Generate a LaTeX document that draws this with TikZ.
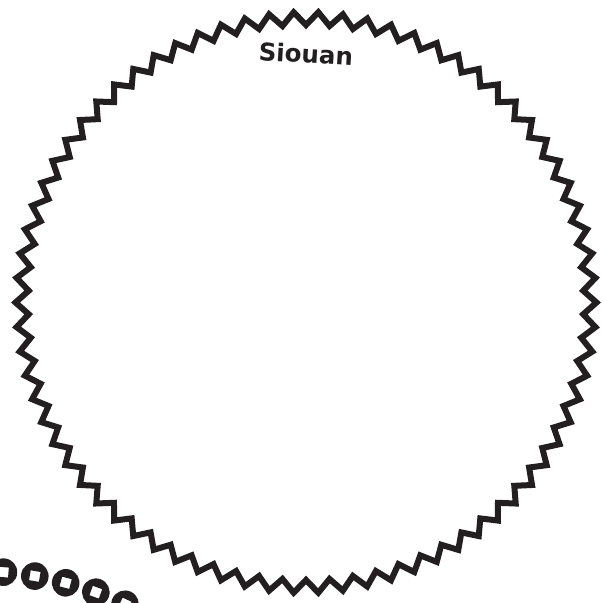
\documentclass[tikz,border=0pt]{standalone}
\usepackage{fontspec}
\setmainfont{DejaVu Sans}
\usetikzlibrary{calc}
\definecolor{ink}{HTML}{231F20}

\begin{document}
\begin{tikzpicture}[x=1pt, y=1pt,
  ring/.style={draw=ink, line width=6pt, line join=miter},
  coin/.style={fill=ink, even odd rule},
  lbl/.style={font=\fontsize{24.5}{25}\selectfont\bfseries, text=ink, inner sep=0pt}]
\useasboundingbox (0,0) rectangle (603,603);
\clip (0,0) rectangle (603,603);
% Siouan circle
\coordinate (siouan) at (306,300.5);
\draw[ring] ($(siouan)+(0:290.5)$)
  \foreach \i in {1,...,147}{ -- ($(siouan)+({\i/148*360}:{284+6.5*(1-2*mod(\i,2))})$)} -- cycle;
\node[lbl, rotate=-3.5] (siouanlbl) at (306,549) {Siouan};
% coins of the next circle
\coordinate (next) at (-25,-323);
\foreach \a in {90.5,85.4,80.3,75.2,70.1,65.0}
  \fill[coin, shift={($(next)+(\a:355)$)}, rotate=\a-90] (0,0) circle (13.8) (-5,-5) rectangle (5,5);
\end{tikzpicture}
\end{document}
